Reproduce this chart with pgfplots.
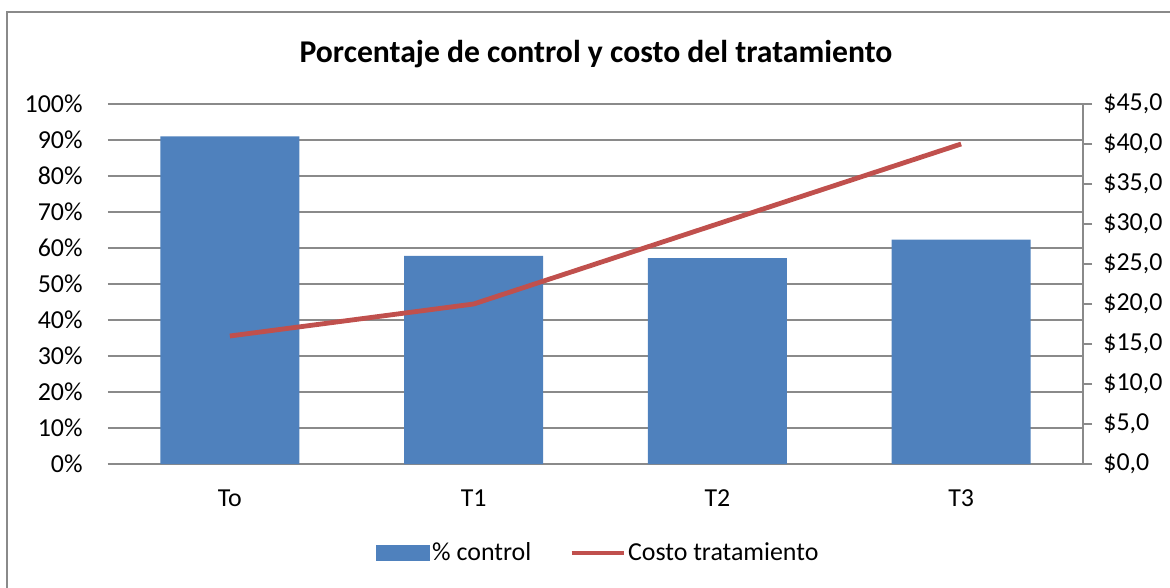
\documentclass[border=0pt]{standalone}
\usepackage{pgfplots}
\pgfplotsset{compat=1.18}
\usepackage{fontspec}
\setmainfont{Carlito}
\definecolor{barblue}{HTML}{4F81BD}
\definecolor{linered}{HTML}{C0504D}
\definecolor{gridgray}{HTML}{8A8A8A}
\begin{document}
\begin{tikzpicture}
\useasboundingbox (0,0) rectangle (585bp,294bp);
\draw[gridgray, line width=1bp] (3.5bp,0) -- (3.5bp,288bp) -- (585bp,288bp);
\node[font=\fontsize{15.9}{18}\selectfont\bfseries] at (298bp,267bp) {Porcentaje de control y costo del tratamiento};
\begin{axis}[
  at={(54bp,62bp)}, anchor=south west,
  scale only axis, width=487.5bp, height=180bp,
  xmin=-0.5, xmax=3.5, ymin=0, ymax=100,
  xtick={0,1,2,3}, xticklabels={To,T1,T2,T3},
  ytick={0,10,...,100},
  yticklabel={\pgfmathprintnumber{\tick}\%},
  /pgf/number format/assume math mode=true,
  axis x line*=bottom, axis y line*=left,
  y axis line style={draw=none},
  x axis line style={gridgray, line width=1bp, -},
  major tick length=0pt,
  ymajorgrids, grid style={gridgray, line width=1bp},
  ticklabel style={font=\fontsize{13}{15}\selectfont},
  yticklabel style={inner sep=0pt, anchor=east, xshift=-12.5bp},
  xticklabel style={inner sep=0pt, anchor=north, yshift=-12.5bp},
]
\addplot[ybar, bar width=69.5bp, fill=barblue, draw=none] coordinates {(0,91) (1,57.8) (2,57.2) (3,62.3)};
\end{axis}
\begin{axis}[
  at={(54bp,62bp)}, anchor=south west,
  scale only axis, width=487.5bp, height=180bp,
  xmin=-0.5, xmax=3.5, ymin=0, ymax=45,
  axis y line*=right, axis x line=none,
  ytick={0,5,...,45},
  yticklabel={\$\pgfmathprintnumber[fixed,fixed zerofill,precision=1,use comma]{\tick}},
  /pgf/number format/assume math mode=true,
  y axis line style={gridgray, line width=1bp, -},
  ytick style={gridgray, line width=1bp},
  major tick length=4.5bp, tick align=outside,
  ticklabel style={font=\fontsize{13}{15}\selectfont},
  yticklabel style={inner sep=0pt, anchor=west, xshift=5.5bp},
  legend columns=2,
  legend style={draw=none, fill=none, at={(0.503,-0.247)}, anchor=center,
    font=\fontsize{13}{15}\selectfont,
    nodes={inner sep=1bp}, cells={anchor=west},
    /tikz/every even column/.append style={column sep=18bp}},
]
\addlegendimage{legend image code/.code={\fill[barblue] (0bp,-3.6bp) rectangle (26.5bp,3.6bp);}}
\addlegendentry{\% control}
\addplot[linered, line width=2.4bp, legend image code/.code={\draw[linered, line width=2.4bp] (0bp,0bp) -- (26bp,0bp);}] coordinates {(0,16) (1,20) (2,30) (3,40)};
\addlegendentry{Costo tratamiento}
\end{axis}
\end{tikzpicture}
\end{document}
